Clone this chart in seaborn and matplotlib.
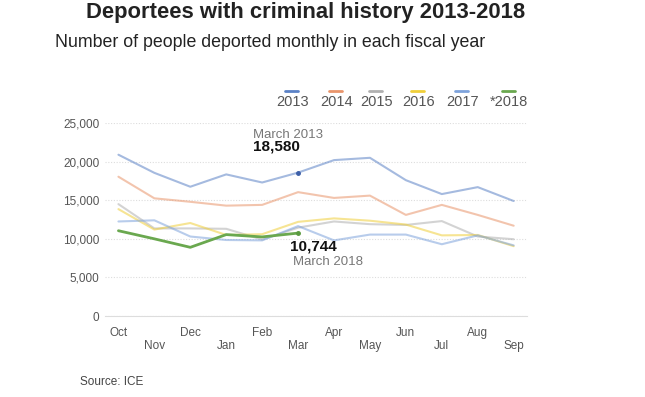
import matplotlib
matplotlib.use("Agg")
import matplotlib.pyplot as plt
import matplotlib.ticker as ticker
from matplotlib.lines import Line2D
import numpy as np
import pandas as pd
import seaborn as sns

months = ['Oct', 'Nov', 'Dec', 'Jan', 'Feb', 'Mar', 'Apr', 'May', 'Jun', 'Jul', 'Aug', 'Sep']
years = ['2013', '2014', '2015', '2016', '2017', '*2018']

fy2013 = [20900, 18550, 16750, 18350, 17300, 18580, 20200, 20500, 17600, 15800, 16700, 14900]
fy2014 = [18050, 15250, 14800, 14300, 14400, 16050, 15300, 15600, 13100, 14400, 13100, 11700]
fy2015 = [14500, 11350, 11350, 11300, 9900, 11450, 12250, 11900, 11800, 12300, 10300, 9950]
fy2016 = [13850, 11200, 12050, 10500, 10600, 12200, 12650, 12350, 11850, 10450, 10500, 9050]
fy2017 = [12250, 12400, 10300, 9850, 9800, 11650, 9800, 10550, 10550, 9300, 10450, 9150]
fy2018 = [11050, 10000, 8900, 10550, 10250, 10744]

colors = ['#5b82c6', '#e9956b', '#b0b0b0', '#f0cf3a', '#7ea3dc', '#6aa84f']

series = [fy2013, fy2014, fy2015, fy2016, fy2017, fy2018]
rows = []
for yr, vals in zip(years, series):
    for i, v in enumerate(vals):
        rows.append({'year': yr, 'month': i, 'count': v})
df = pd.DataFrame(rows)

sns.set_style("white")
plt.rcParams['font.family'] = ['Liberation Sans', 'DejaVu Sans']

fig = plt.figure(figsize=(6.45, 3.97), dpi=100)
ax = fig.add_axes([0.163, 0.204, 0.654, 0.486])

for yr, col in zip(years[:-1], colors[:-1]):
    sns.lineplot(data=df[df.year == yr], x='month', y='count', color=col,
                 alpha=0.55, linewidth=1.5, ax=ax, legend=False)
sns.lineplot(data=df[df.year == '*2018'], x='month', y='count', color=colors[-1],
             linewidth=2.0, ax=ax, legend=False)

# highlighted points
ax.plot(5, fy2013[5], 'o', color='#3d5fa8', ms=2.5)
ax.plot(5, fy2018[5], 'o', color='#5a9a3f', ms=2.5)

ax.annotate('March 2013', (5, fy2013[5]), xytext=(-45, 38), textcoords='offset pixels',
            ha='left', va='center', fontsize=9.5, color='#777777')
ax.annotate('{:,}'.format(fy2013[5]), (5, fy2013[5]), xytext=(-45, 26), textcoords='offset pixels',
            ha='left', va='center', fontsize=11, fontweight='bold', color='#111111')
ax.annotate('{:,}'.format(fy2018[5]), (5, fy2018[5]), xytext=(-8, -13), textcoords='offset pixels',
            ha='left', va='center', fontsize=11, fontweight='bold', color='#111111')
ax.annotate('March 2018', (5, fy2018[5]), xytext=(-5, -29), textcoords='offset pixels',
            ha='left', va='center', fontsize=9.5, color='#777777')

ax.set_xlim(-0.37, 11.37)
ax.set_ylim(0, 25000)
ax.yaxis.set_major_locator(ticker.MultipleLocator(5000))
ax.yaxis.set_major_formatter(ticker.FuncFormatter(lambda v, p: '{:,}'.format(int(v))))
ax.grid(axis='y', color='#dddddd', linestyle=(0, (1, 1.5)), linewidth=0.8)
ax.set_axisbelow(True)
for s in ['top', 'right', 'left']:
    ax.spines[s].set_visible(False)
ax.spines['bottom'].set_color('#dddddd')
ax.spines['bottom'].set_linewidth(0.8)

ax.xaxis.set_major_locator(ticker.FixedLocator(range(0, 12, 2)))
ax.xaxis.set_major_formatter(ticker.FixedFormatter(months[0::2]))
ax.xaxis.set_minor_locator(ticker.FixedLocator(range(1, 12, 2)))
ax.xaxis.set_minor_formatter(ticker.FixedFormatter(months[1::2]))
ax.tick_params(axis='x', which='major', length=0, pad=8, labelsize=8.5, labelcolor='#555555')
ax.tick_params(axis='x', which='minor', length=14, width=0.8, color='#e3e3e3', pad=3.5,
               labelsize=8.5, labelcolor='#555555')
ax.tick_params(axis='y', length=0, pad=4, labelsize=8.5, labelcolor='#555555')
ax.set_xlabel('')
ax.set_ylabel('')

fig.text(0.473, 0.968, 'Deportees with criminal history 2013-2018', ha='center', va='center',
         fontsize=15.8, fontweight='bold', color='#222222')
fig.text(0.085, 0.893, 'Number of people deported monthly in each fiscal year', ha='left',
         va='center', fontsize=12.8, color='#222222')
fig.text(0.124, 0.037, 'Source: ICE', ha='left', va='center', fontsize=8.5, color='#444444')

# legend: short line above each label
leg_x = [276, 320, 360, 402, 446, 490]
for yr, col, lx in zip(years, colors, leg_x):
    fig.text(lx / 645, 1 - 102 / 397, yr, ha='left', va='center', fontsize=10.5, color='#555555')
    x0 = lx + 3 if yr.startswith('*') else lx
    fig.add_artist(Line2D([(x0 + 9) / 645, (x0 + 22) / 645], [1 - 91 / 397] * 2,
                          color=col, linewidth=2, transform=fig.transFigure))

fig.savefig('out.png', dpi=100)
